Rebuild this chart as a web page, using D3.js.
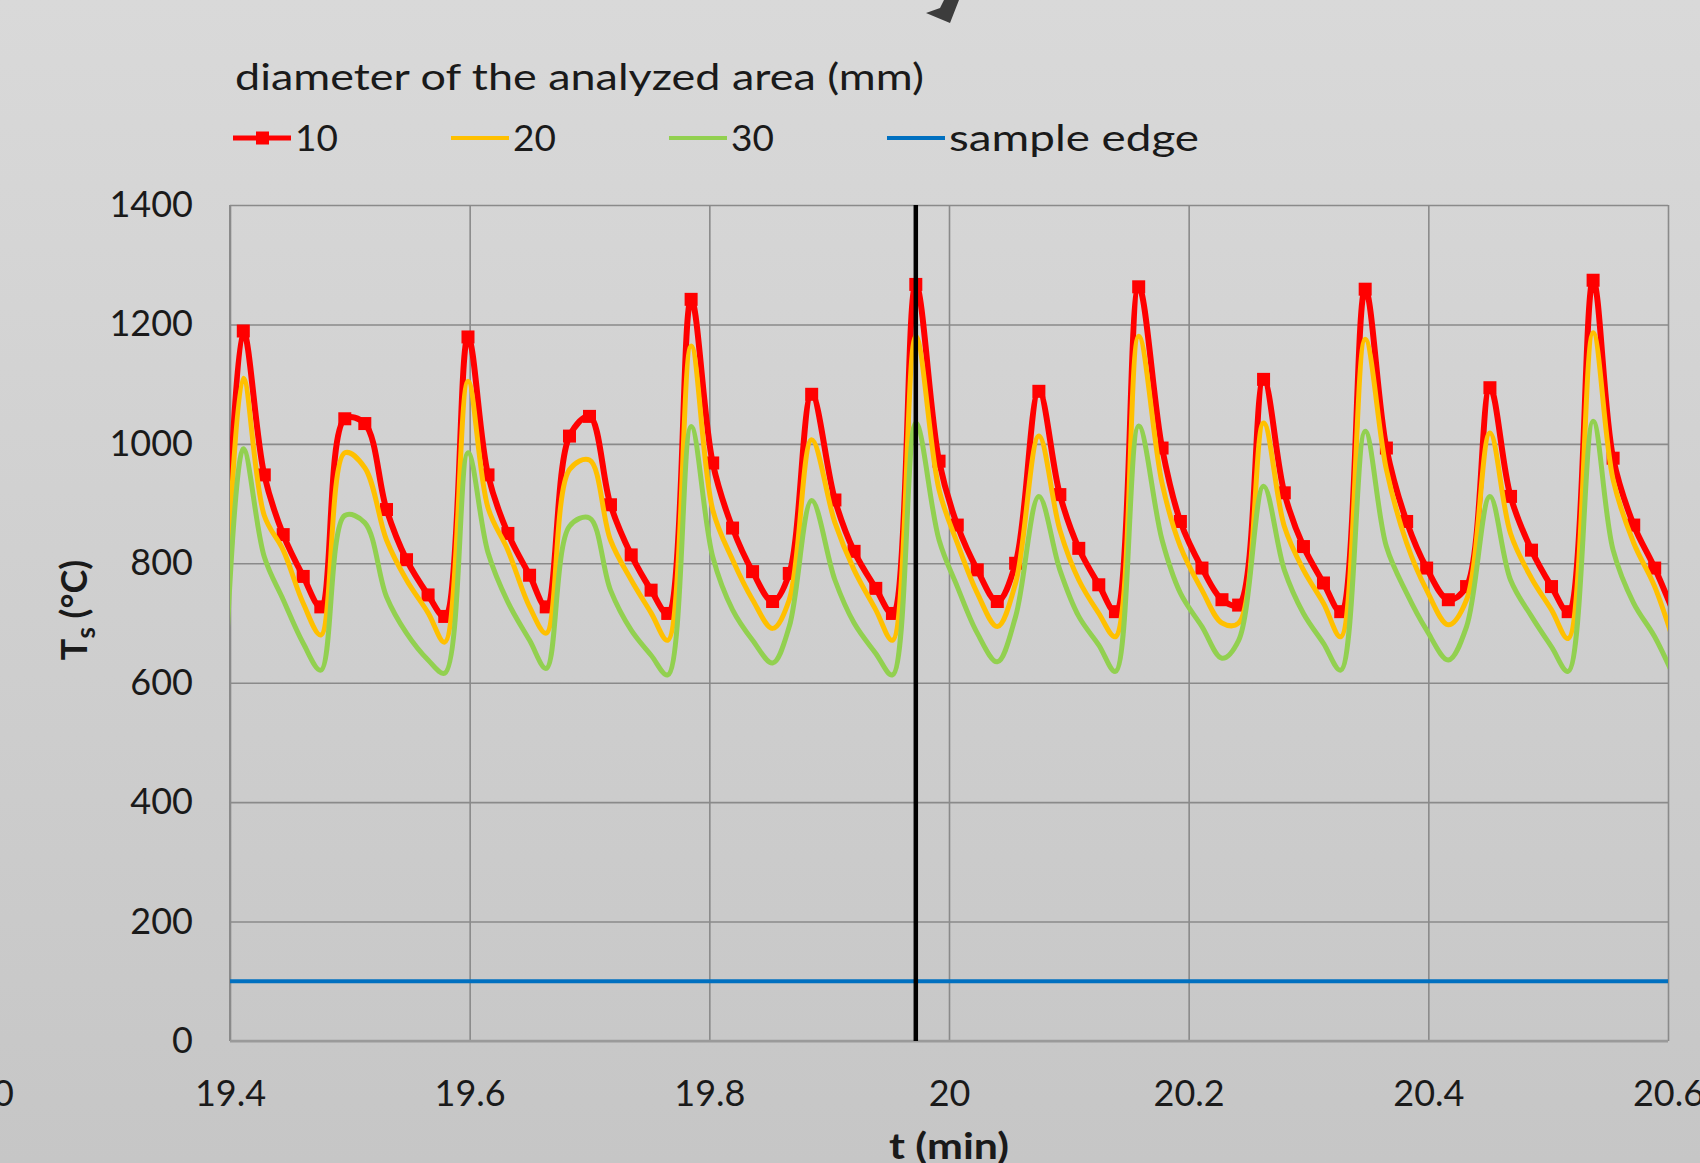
<!DOCTYPE html>
<html>
<head>
<meta charset="utf-8">
<script src="https://cdn.jsdelivr.net/npm/d3@7"></script>
<style>
  html, body { margin: 0; padding: 0; background: #d2d2d2; }
  svg { display: block; }
  text { font-family: Lato, "Open Sans", "DejaVu Sans", sans-serif; fill: #1a1a1a; }
</style>
</head>
<body>
<svg id="chart" width="1700" height="1163"></svg>
<script>
// Sampling times (min); the first and last samples lie just outside the axis range
const times = [19.3958, 19.4111, 19.4286, 19.4444, 19.4611, 19.4758, 19.4958, 19.5125, 19.5306, 19.5473,
  19.5653, 19.5792, 19.5986, 19.6153, 19.6319, 19.65, 19.6639, 19.6833, 19.7, 19.7175,
  19.7348, 19.7514, 19.7653, 19.7848, 19.8028, 19.8194, 19.8361, 19.8528, 19.8667, 19.8854,
  19.9048, 19.9208, 19.9389, 19.9528, 19.9723, 19.9917, 20.0069, 20.0236, 20.0403, 20.0556,
  20.075, 20.0925, 20.1083, 20.125, 20.1389, 20.1583, 20.1778, 20.1931, 20.2111, 20.2278,
  20.2417, 20.2625, 20.2798, 20.2958, 20.3125, 20.3269, 20.3473, 20.365, 20.3819, 20.3986,
  20.4167, 20.4319, 20.4514, 20.4686, 20.4861, 20.5028, 20.5167, 20.5375, 20.5542, 20.5714,
  20.5889, 20.6058];

// Surface temperature Ts (°C) for each analyzed-area diameter
const ts10 = [700, 1189, 948, 848, 778, 727, 1042, 1034, 890, 806, 747, 711, 1179, 948, 850, 780, 727, 1013,
  1046, 898, 814, 755, 716, 1242, 968, 859, 786, 736, 783, 1083, 906, 820, 758, 716, 1267, 971,
  864, 789, 736, 800, 1088, 915, 825, 764, 719, 1263, 993, 870, 792, 739, 730, 1108, 918, 828,
  767, 719, 1259, 993, 870, 792, 739, 761, 1094, 912, 822, 761, 719, 1274, 976, 864, 792, 712];
const ts20 = [675, 1110, 880, 822, 733, 680, 985, 960, 839, 772, 717, 668, 1105, 893, 822, 727, 683, 957,
  973, 839, 772, 717, 671, 1164, 890, 806, 739, 691, 739, 1007, 868, 789, 722, 671, 1180, 923,
  834, 750, 694, 767, 1013, 856, 772, 716, 677, 1180, 934, 828, 755, 700, 700, 1035, 862, 789,
  733, 677, 1175, 957, 834, 755, 697, 739, 1018, 850, 775, 722, 674, 1186, 940, 834, 761, 662];
const ts30 = [600, 992, 811, 739, 666, 621, 880, 868, 744, 683, 638, 616, 985, 818, 735, 671, 624, 862,
  876, 755, 688, 646, 613, 1029, 811, 722, 671, 633, 694, 905, 772, 700, 649, 613, 1035, 839,
  761, 683, 635, 711, 912, 789, 711, 663, 619, 1030, 839, 750, 694, 641, 671, 929, 789, 716,
  666, 621, 1021, 828, 750, 688, 638, 694, 912, 772, 711, 660, 619, 1038, 822, 733, 677, 606];

// Temperature at the sample edge
const edgeTimes = [19.4, 20.6];
const edgeTemps = [100, 100];

// Time of the marked instant
const markedTime = 19.9723;

const xTicks = [19.4, 19.6, 19.8, 20, 20.2, 20.4, 20.6];
const yTicks = [0, 200, 400, 600, 800, 1000, 1200, 1400];
const legendTitle = "diameter of the analyzed area (mm)";
const legendLabels = ["10", "20", "30", "sample edge"];

// ---------------------------------------------------------------
const W = 1700, H = 1163;
const plot = { left: 230, right: 1668, top: 205, bottom: 1041 };
const colors = { c10: "#ff0000", c20: "#ffc000", c30: "#92d050", edge: "#0070c0" };

const svg = d3.select("#chart");

const defs = svg.append("defs");
const grad = defs.append("linearGradient")
  .attr("id", "bg").attr("x1", 0).attr("y1", 0).attr("x2", 0).attr("y2", 1);
grad.append("stop").attr("offset", "0%").attr("stop-color", "#d9d9d9");
grad.append("stop").attr("offset", "100%").attr("stop-color", "#c6c6c6");
defs.append("clipPath").attr("id", "plotClip")
  .append("rect")
  .attr("x", plot.left).attr("y", plot.top - 10)
  .attr("width", plot.right - plot.left).attr("height", plot.bottom - plot.top + 10);

svg.append("rect").attr("width", W).attr("height", H).attr("fill", "url(#bg)");

const x = d3.scaleLinear().domain([19.4, 20.6]).range([plot.left, plot.right]);
const y = d3.scaleLinear().domain([0, 1400]).range([plot.bottom, plot.top]);

// Gridlines
svg.append("g")
  .attr("transform", `translate(${plot.left},0)`)
  .call(d3.axisLeft(y).tickValues(yTicks).tickSize(-(plot.right - plot.left)).tickFormat(""))
  .call(g => g.select(".domain").remove())
  .call(g => g.selectAll("line").attr("stroke", "#8a8a8a").attr("stroke-width", 1.6));
svg.append("g")
  .attr("transform", `translate(0,${plot.bottom})`)
  .call(d3.axisBottom(x).tickValues(xTicks).tickSize(-(plot.bottom - plot.top)).tickFormat(""))
  .call(g => g.select(".domain").remove())
  .call(g => g.selectAll("line").attr("stroke", "#8a8a8a").attr("stroke-width", 1.6));

// Axis lines
svg.append("line")
  .attr("x1", plot.left).attr("x2", plot.left).attr("y1", plot.top).attr("y2", plot.bottom)
  .attr("stroke", "#8a8a8a").attr("stroke-width", 2);
svg.append("line")
  .attr("x1", plot.left).attr("x2", plot.right).attr("y1", plot.bottom).attr("y2", plot.bottom)
  .attr("stroke", "#9a9a9a").attr("stroke-width", 2.5);

// Tick labels
const yAxis = svg.append("g")
  .attr("transform", `translate(${plot.left},0)`)
  .call(d3.axisLeft(y).tickValues(yTicks).tickSize(0).tickPadding(37).tickFormat(d3.format("d")));
yAxis.select(".domain").remove();
yAxis.selectAll("text").attr("font-size", 36).attr("font-family", "Lato").attr("fill", "#1a1a1a");

const xAxis = svg.append("g")
  .attr("transform", `translate(0,${plot.bottom})`)
  .call(d3.axisBottom(x).tickValues(xTicks).tickSize(0).tickPadding(39).tickFormat(d => String(+d.toFixed(1))));
xAxis.select(".domain").remove();
xAxis.selectAll("text").attr("font-size", 36).attr("font-family", "Lato").attr("fill", "#1a1a1a");

// Axis titles
svg.append("text")
  .attr("x", (plot.left + plot.right) / 2).attr("y", 1159)
  .attr("text-anchor", "middle").attr("font-size", 37).attr("font-weight", "bold")
  .attr("textLength", 120).attr("lengthAdjust", "spacingAndGlyphs")
  .text("t (min)");

const yTitle = svg.append("text")
  .attr("transform", "translate(87,610) rotate(-90)")
  .attr("text-anchor", "middle").attr("font-size", 36).attr("font-weight", "bold");
yTitle.append("tspan").text("T");
yTitle.append("tspan").attr("font-size", 26).attr("dy", 8).text("s");
yTitle.append("tspan").attr("dy", -8).text(" (°C)");

// Series
const rows = times.map((t, i) => ({ t, v10: ts10[i], v20: ts20[i], v30: ts30[i] }));
const visibleRows = rows.filter(d => d.t >= x.domain()[0] && d.t <= x.domain()[1]);
const series = svg.append("g").attr("clip-path", "url(#plotClip)");

const lineOf = key => d3.line()
  .x(d => x(d.t)).y(d => y(d[key]))
  .curve(d3.curveCatmullRom.alpha(0.5));

series.append("path").datum(rows)
  .attr("fill", "none").attr("stroke", colors.c10).attr("stroke-width", 6)
  .attr("stroke-linejoin", "round").attr("d", lineOf("v10"));
series.selectAll("rect.m10").data(visibleRows).join("rect")
  .attr("class", "m10")
  .attr("x", d => x(d.t) - 6.5).attr("y", d => y(d.v10) - 6.5)
  .attr("width", 13).attr("height", 13)
  .attr("fill", colors.c10);
series.append("path").datum(rows)
  .attr("fill", "none").attr("stroke", colors.c20).attr("stroke-width", 5)
  .attr("stroke-linejoin", "round").attr("d", lineOf("v20"));
series.append("path").datum(rows)
  .attr("fill", "none").attr("stroke", colors.c30).attr("stroke-width", 5)
  .attr("stroke-linejoin", "round").attr("d", lineOf("v30"));

const edgeRows = edgeTimes.map((t, i) => ({ t, v: edgeTemps[i] }));
series.append("path").datum(edgeRows)
  .attr("fill", "none").attr("stroke", colors.edge).attr("stroke-width", 4)
  .attr("d", d3.line().x(d => x(d.t)).y(d => y(d.v)));

// Marked instant
svg.append("line")
  .attr("x1", x(markedTime)).attr("x2", x(markedTime))
  .attr("y1", plot.top).attr("y2", plot.bottom)
  .attr("stroke", "#000").attr("stroke-width", 4.5);

// Legend
svg.append("text")
  .attr("x", 235).attr("y", 90).attr("font-size", 37)
  .attr("textLength", 689).attr("lengthAdjust", "spacingAndGlyphs")
  .text(legendTitle);

const legendColors = [colors.c10, colors.c20, colors.c30, colors.edge];
const legendWidths = [null, null, null, 250];
const legend = svg.append("g").attr("transform", "translate(233,138)");
const items = legend.selectAll("g").data(legendLabels).join("g")
  .attr("transform", (d, i) => `translate(${i * 218},0)`);
items.append("line")
  .attr("x1", 0).attr("x2", 58).attr("y1", 0).attr("y2", 0)
  .attr("stroke", (d, i) => legendColors[i]).attr("stroke-width", (d, i) => i === 0 ? 5 : 4);
items.filter((d, i) => i === 0).append("rect")
  .attr("x", 23).attr("y", -6.5).attr("width", 13).attr("height", 13).attr("fill", colors.c10);
items.append("text")
  .attr("x", 62).attr("y", 13).attr("font-size", 37)
  .each(function (d, i) {
    if (legendWidths[i]) d3.select(this).attr("textLength", legendWidths[i]).attr("lengthAdjust", "spacingAndGlyphs");
  })
  .text(d => d);

// Neighbouring-figure fragments at the page edges
svg.append("text")
  .attr("x", 14).attr("y", 1106).attr("text-anchor", "end").attr("font-size", 36)
  .text("0");
svg.append("path")
  .attr("d", "M944,0 L959,0 L950,23 L926,13 L940,8 Z")
  .attr("fill", "#3c3c3c");
</script>
</body>
</html>
